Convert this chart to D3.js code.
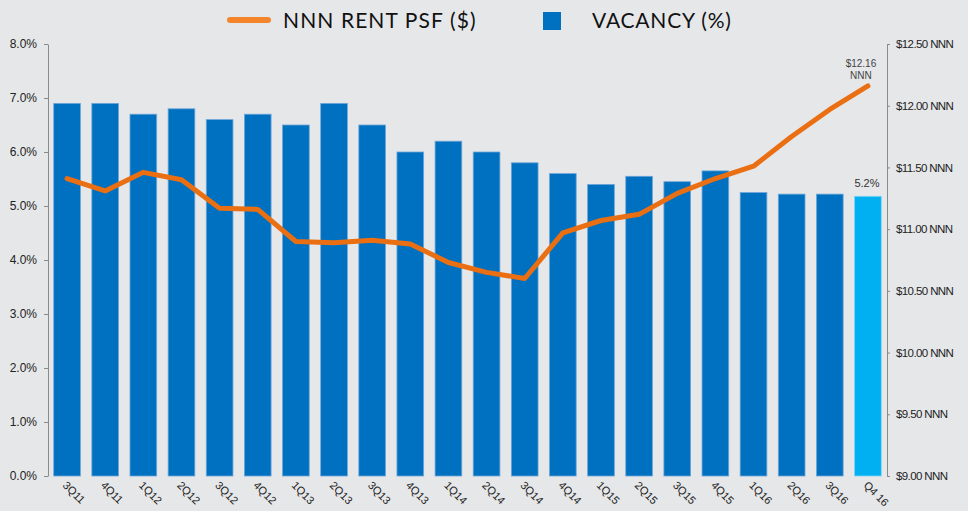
<!DOCTYPE html>
<html>
<head>
<meta charset="utf-8">
<script src="https://cdn.jsdelivr.net/npm/d3@7"></script>
<style>
  body { margin: 0; background: #e6e7e9; }
  svg { display: block; }
  .axis path, .axis line { stroke: #8a8a8a; }
  .left text { font-family: "Liberation Sans", Arial, sans-serif; font-size: 12px; fill: #222; }
  .right text { font-family: "Liberation Sans Narrow", "Liberation Sans", sans-serif; font-size: 11.5px; letter-spacing: -0.6px; fill: #222; }
  .xlab { font-family: "Liberation Sans", Arial, sans-serif; font-size: 11px; fill: #222; }
</style>
</head>
<body>
<div id="chart"></div>
<script>
var quarters = ["3Q11", "4Q11", "1Q12", "2Q12", "3Q12", "4Q12", "1Q13", "2Q13", "3Q13", "4Q13", "1Q14",
                "2Q14", "3Q14", "4Q14", "1Q15", "2Q15", "3Q15", "4Q15", "1Q16", "2Q16", "3Q16", "Q4 16"];
var vacancy = [6.9, 6.9, 6.7, 6.8, 6.6, 6.7, 6.5, 6.9, 6.5, 6.0, 6.2,
               6.0, 5.8, 5.6, 5.4, 5.55, 5.45, 5.65, 5.25, 5.22, 5.22, 5.18];
var rent = [11.41, 11.31, 11.46, 11.40, 11.17, 11.16, 10.90, 10.89, 10.91, 10.88, 10.73,
            10.65, 10.60, 10.97, 11.07, 11.12, 11.29, 11.41, 11.51, 11.75, 11.97, 12.16];
var vacancyTicks = [0, 1, 2, 3, 4, 5, 6, 7, 8];
var rentTicks = [9, 9.5, 10, 10.5, 11, 11.5, 12, 12.5];

var width = 968, height = 511;
var margin = {left: 48, right: 887, top: 44, bottom: 476};

var svg = d3.select("#chart").append("svg")
    .attr("width", width)
    .attr("height", height);

var x = d3.scaleBand().domain(quarters).range([margin.left, margin.right]).paddingInner(0.3).paddingOuter(0.15);
var yVac = d3.scaleLinear().domain([0, 8]).range([margin.bottom, margin.top]);
var yRent = d3.scaleLinear().domain([9, 12.5]).range([margin.bottom, margin.top]);

// bars
svg.selectAll("rect.bar")
    .data(vacancy)
    .enter()
    .append("rect")
    .attr("class", "bar")
    .attr("x", (d, i) => x(quarters[i]))
    .attr("y", d => yVac(d))
    .attr("width", x.bandwidth())
    .attr("height", d => yVac(0) - yVac(d))
    .attr("fill", (d, i) => i === quarters.length - 1 ? "#00b0f0" : "#0070c0")
    .attr("stroke", (d, i) => i === quarters.length - 1 ? "#7fd3f5" : "#6ea6d8")
    .attr("stroke-width", 0.8);

// axes
svg.append("g")
    .attr("class", "axis left")
    .attr("transform", "translate(" + margin.left + ",0)")
    .call(d3.axisLeft(yVac).tickValues(vacancyTicks).tickSize(4).tickPadding(7).tickSizeOuter(0)
        .tickFormat(d => d.toFixed(1) + "%"));

svg.append("g")
    .attr("class", "axis right")
    .attr("transform", "translate(" + margin.right + ",0)")
    .call(d3.axisRight(yRent).tickValues(rentTicks).tickSize(3).tickPadding(6).tickSizeOuter(0)
        .tickFormat(d => "$" + d.toFixed(2) + " NNN"));

// x labels
svg.selectAll("text.xlab")
    .data(quarters)
    .enter()
    .append("text")
    .attr("class", "xlab")
    .attr("transform", d => "translate(" + (x(d) + x.bandwidth() / 2 - 5) + "," + (margin.bottom + 10) + ") rotate(45)")
    .text(d => d);

// rent line
var line = d3.line()
    .x((d, i) => x(quarters[i]) + x.bandwidth() / 2)
    .y(d => yRent(d));

svg.append("path")
    .datum(rent)
    .attr("d", line)
    .attr("fill", "none")
    .attr("stroke", "#ea6f13")
    .attr("stroke-width", 5)
    .attr("stroke-linecap", "round")
    .attr("stroke-linejoin", "round");

// annotations
var lastQ = quarters[quarters.length - 1];
var lastX = x(lastQ) + x.bandwidth() / 2;
var note = svg.append("text")
    .attr("x", lastX - 7)
    .attr("y", yRent(rent[rent.length - 1]) - 19)
    .attr("text-anchor", "middle")
    .style("font-family", "Liberation Sans, Arial, sans-serif")
    .style("font-size", "10px")
    .style("fill", "#444");
note.append("tspan").attr("x", lastX - 7).attr("dy", 0).text("$" + rent[rent.length - 1].toFixed(2));
note.append("tspan").attr("x", lastX - 7).attr("dy", 12).text("NNN");

svg.append("text")
    .attr("x", lastX - 1)
    .attr("y", yVac(vacancy[vacancy.length - 1]) - 9)
    .attr("text-anchor", "middle")
    .style("font-family", "Liberation Sans, Arial, sans-serif")
    .style("font-size", "11px")
    .style("fill", "#333")
    .text(vacancy[vacancy.length - 1].toFixed(1) + "%");

// legend
var legend = svg.append("g");
legend.append("line")
    .attr("x1", 230).attr("x2", 268)
    .attr("y1", 20).attr("y2", 20)
    .attr("stroke", "#f5852a")
    .attr("stroke-width", 6)
    .attr("stroke-linecap", "round");
legend.append("text")
    .attr("x", 283).attr("y", 28)
    .style("font-family", "Lato, sans-serif")
    .style("font-size", "21px")
    .style("letter-spacing", "1.1px")
    .style("fill", "#111")
    .text("NNN RENT PSF ($)");
legend.append("rect")
    .attr("x", 543).attr("y", 12)
    .attr("width", 18).attr("height", 18)
    .attr("fill", "#0070c0");
legend.append("text")
    .attr("x", 592).attr("y", 28)
    .style("font-family", "Lato, sans-serif")
    .style("font-size", "21px")
    .style("letter-spacing", "0.8px")
    .style("fill", "#111")
    .text("VACANCY (%)");
</script>
</body>
</html>
